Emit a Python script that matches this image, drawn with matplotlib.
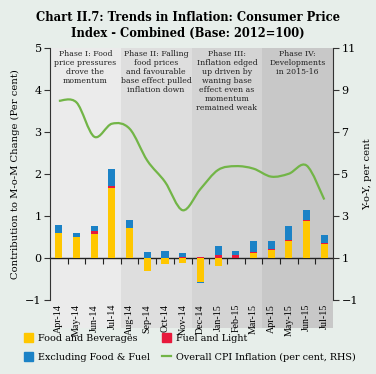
import numpy as np
import matplotlib
matplotlib.use('Agg')
import matplotlib.pyplot as plt
from matplotlib.patches import Patch, PathPatch
from matplotlib.lines import Line2D
from matplotlib.path import Path

plt.rcParams['font.family'] = ['DejaVu Serif']

# data
months = ['Apr-14', 'May-14', 'Jun-14', 'Jul-14', 'Aug-14', 'Sep-14', 'Oct-14', 'Nov-14',
          'Dec-14', 'Jan-15', 'Feb-15', 'Mar-15', 'Apr-15', 'May-15', 'Jun-15', 'Jul-15']
food = [0.59, 0.50, 0.575, 1.67, 0.72, -0.30, -0.14, -0.11,
        -0.57, -0.19, 0.01, 0.12, 0.20, 0.40, 0.87, 0.33]
fuel = [0.01, 0.0, 0.055, 0.05, 0.0, 0.0, 0.0, 0.03,
        0.02, 0.06, 0.06, 0.03, 0.02, 0.03, 0.04, 0.02]
excl = [0.18, 0.09, 0.13, 0.39, 0.19, 0.14, 0.16, 0.08,
        -0.02, 0.22, 0.10, 0.26, 0.18, 0.33, 0.24, 0.19]
cpi = [8.48, 8.40, 6.77, 7.39, 7.15, 5.63, 4.62, 3.27,
       4.28, 5.19, 5.37, 5.25, 4.87, 5.01, 5.40, 3.78]

phases = ['Phase I: Food\nprice pressures\ndrove the\nmomentum',
          'Phase II: Falling\nfood prices\nand favourable\nbase effect pulled\ninflation down',
          'Phase III:\nInflation edged\nup driven by\nwaning base\neffect even as\nmomentum\nremained weak',
          'Phase IV:\nDevelopments\nin 2015-16']
phase_start = [0, 4, 8, 12]
phase_len = 4
phase_colors = ['#ebebeb', '#dedede', '#d4d4d4', '#c8c8c8']

c_food = '#ffc700'
c_fuel = '#e8193c'
c_excl = '#1b82c6'
c_line = '#72b547'
bg = '#e7eeea'
dark = '#333333'

fig = plt.figure(figsize=(3.76, 3.74), dpi=100, facecolor=bg)
ax = fig.add_axes([0.133, 0.198, 0.753, 0.674])
ax.set_facecolor('none')
x = np.arange(len(months))

# phase shading, running down behind the month labels
for s, col, txt in zip(phase_start, phase_colors, phases):
    ax.axvspan(s - 0.5, s + phase_len - 0.5, ymin=-0.11, ymax=1, color=col,
               lw=0, zorder=0, clip_on=False)
    ax.text(s + phase_len / 2 - 0.5, 4.96, txt, ha='center', va='top',
            fontsize=5.6, color='#222222', linespacing=1.18, zorder=3)

# stacked bars, positives up and negatives down
food = np.array(food); fuel = np.array(fuel); excl = np.array(excl)
pos = np.zeros(len(x)); neg = np.zeros(len(x))
for vals, col in [(food, c_food), (fuel, c_fuel), (excl, c_excl)]:
    bottom = np.where(vals >= 0, pos, neg)
    ax.bar(x, vals, 0.4, bottom=bottom, color=col, zorder=2, lw=0)
    pos = pos + np.clip(vals, 0, None)
    neg = neg + np.clip(vals, None, 0)

ax.set_xlim(-0.5, len(x) - 0.5)
ax.set_ylim(-1, 5)
ax.set_yticks(range(-1, 6))
ax.set_xticks(x)
ax.set_xticklabels(months, rotation=90, fontsize=7.2, family='Liberation Serif')
ax.tick_params(axis='x', length=0, pad=3)
ax.tick_params(axis='y', labelsize=8, length=4, width=0.8, color=dark, pad=2)
for sp in ['top', 'bottom', 'right']:
    ax.spines[sp].set_visible(False)
ax.spines['left'].set_color(dark)
ax.set_ylabel('Contribution to M-o-M Change (Per cent)', fontsize=7.2, labelpad=4)

# zero line with ticks between months
zero = ax.secondary_xaxis(1 / 6)
zero.set_xticks(x[:-1] + 0.5)
zero.set_xticklabels([])
zero.tick_params(direction='out', length=4, width=0.8, color='#222222')
zero.spines['bottom'].set_color('#222222')
zero.spines['bottom'].set_linewidth(1.0)

# right axis with smoothed CPI line
ax2 = ax.twinx()
ax2.set_ylim(-1, 11)
ax2.set_yticks([-1, 1, 3, 5, 7, 9, 11])
ax2.tick_params(axis='y', labelsize=8, length=4, width=0.8, color=dark, pad=2)
for sp in ['top', 'bottom', 'left']:
    ax2.spines[sp].set_visible(False)
ax2.spines['right'].set_color(dark)
ax2.set_ylabel('Y-o-Y, per cent', fontsize=7.2, labelpad=4)

px = x.astype(float); py = np.array(cpi)
verts = [(px[0], py[0])]
codes = [Path.MOVETO]
for i in range(len(px) - 1):
    p0 = (px[max(i - 1, 0)], py[max(i - 1, 0)])
    p1 = (px[i], py[i]); p2 = (px[i + 1], py[i + 1])
    p3 = (px[min(i + 2, len(px) - 1)], py[min(i + 2, len(px) - 1)])
    c1 = (p1[0] + (p2[0] - p0[0]) / 6, p1[1] + (p2[1] - p0[1]) / 6)
    c2 = (p2[0] - (p3[0] - p1[0]) / 6, p2[1] - (p3[1] - p1[1]) / 6)
    verts += [c1, c2, p2]
    codes += [Path.CURVE4] * 3
ax2.add_patch(PathPatch(Path(verts, codes), fill=False, ec=c_line, lw=1.6, zorder=4))

fig.text(0.5, 0.932, 'Chart II.7: Trends in Inflation: Consumer Price\nIndex - Combined (Base: 2012=100)',
         ha='center', va='center', fontsize=8.3, fontweight='bold', linespacing=1.25)

handles = [Patch(color=c_food), Patch(color=c_excl), Patch(color=c_fuel),
           Line2D([], [], color=c_line, lw=1.6)]
labels = ['Food and Beverages', 'Excluding Food & Fuel', 'Fuel and Light',
          'Overall CPI Inflation (per cent, RHS)']
fig.legend(handles, labels, ncol=2, loc='lower left', bbox_to_anchor=(0.04, 0.01),
           frameon=False, fontsize=6.9, handlelength=1.0, handleheight=1.0,
           handletextpad=0.5, columnspacing=1.2, labelspacing=0.95)

fig.savefig('out.png', dpi=100, facecolor=bg)
